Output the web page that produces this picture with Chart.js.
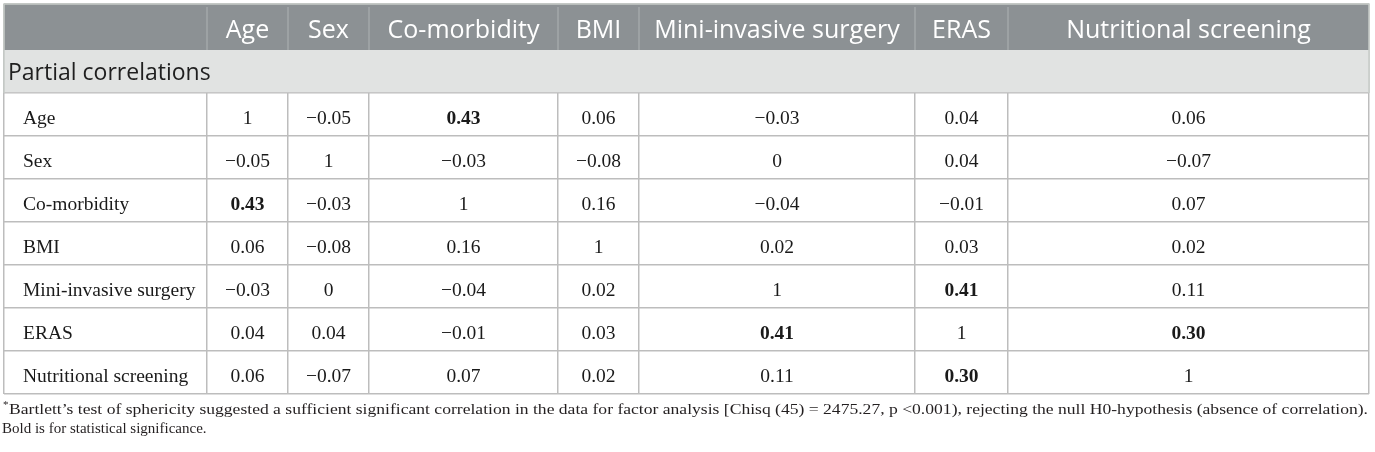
<!DOCTYPE html>
<html>
<head>
<meta charset="utf-8">
<script src="https://cdn.jsdelivr.net/npm/chart.js@4.4.0/dist/chart.umd.min.js"></script>
<style>
    html, body { margin: 0; padding: 0; background: #fff; }
    canvas { display: block; }
</style>
</head>
<body>
<canvas id="corrTable" width="1375" height="452"></canvas>
<script>
// Column and row headers
const columnLabels = ["Age", "Sex", "Co-morbidity", "BMI", "Mini-invasive surgery", "ERAS", "Nutritional screening"];
const rowLabels = ["Age", "Sex", "Co-morbidity", "BMI", "Mini-invasive surgery", "ERAS", "Nutritional screening"];
const sectionTitle = "Partial correlations";

// Partial correlations, one array per row
const ageValues = [1, -0.05, 0.43, 0.06, -0.03, 0.04, 0.06];
const sexValues = [-0.05, 1, -0.03, -0.08, 0, 0.04, -0.07];
const comorbidityValues = [0.43, -0.03, 1, 0.16, -0.04, -0.01, 0.07];
const bmiValues = [0.06, -0.08, 0.16, 1, 0.02, 0.03, 0.02];
const miniInvasiveValues = [-0.03, 0, -0.04, 0.02, 1, 0.41, 0.11];
const erasValues = [0.04, 0.04, -0.01, 0.03, 0.41, 1, 0.30];
const nutritionValues = [0.06, -0.07, 0.07, 0.02, 0.11, 0.30, 1];

// [row, col] of the bold (significant) cells
const significantCells = [[0, 2], [2, 0], [4, 5], [5, 4], [5, 6], [6, 5]];

const footnoteMark = "*";
const footnoteLines = [
    "Bartlett\u2019s test of sphericity suggested a sufficient significant correlation in the data for factor analysis [Chisq (45) = 2475.27, p <0.001), rejecting the null H0-hypothesis (absence of correlation).",
    "Bold is for statistical significance.",
];

// Layout (table units = px)
const colWidths = [203, 81, 81, 189, 81, 276, 93, 361];
const rowHeights = [46, 43, 43, 43, 43, 43, 43, 43, 43];

const matrix = [ageValues, sexValues, comorbidityValues, bmiValues, miniInvasiveValues, erasValues, nutritionValues];

function cumulative(arr) {
    const out = [0];
    arr.forEach((w) => out.push(out[out.length - 1] + w));
    return out;
}
const colEdges = cumulative(colWidths);
const rowEdges = cumulative(rowHeights);

function fmt(v) {
    if (v === 0 || v === 1) return String(v);
    const s = Math.abs(v).toFixed(2);
    return v < 0 ? "\u2212" + s : s;
}

function isBold(r, c) {
    return significantCells.some((p) => p[0] === r && p[1] === c);
}

// one point per value cell, placed in the middle of its cell
const cells = [];
matrix.forEach((row, r) => {
    row.forEach((v, c) => {
        cells.push({
            x: (colEdges[c + 1] + colEdges[c + 2]) / 2,
            y: (rowEdges[r + 2] + rowEdges[r + 3]) / 2,
            text: fmt(v),
            bold: isBold(r, c),
        });
    });
});

const SERIF = '"Liberation Serif", "DejaVu Serif", serif';
const SANS = '"Open Sans", "Noto Sans", sans-serif';

const tablePlugin = {
    id: "tablePlugin",
    beforeDatasetsDraw(chart) {
        const ctx = chart.ctx;
        const x = chart.scales.x;
        const y = chart.scales.y;
        const left = x.getPixelForValue(0);
        const right = x.getPixelForValue(colEdges[colEdges.length - 1]);
        const top = y.getPixelForValue(0);
        const headBottom = y.getPixelForValue(rowEdges[1]);
        const sectBottom = y.getPixelForValue(rowEdges[2]);

        ctx.save();
        // header band
        ctx.fillStyle = "#8c9194";
        ctx.fillRect(left, top, right - left, headBottom - top);
        // section band
        ctx.fillStyle = "#e1e3e2";
        ctx.fillRect(left, headBottom, right - left, sectBottom - headBottom - 0.75);

        // light separators inside the header
        ctx.strokeStyle = "#a3a8aa";
        ctx.lineWidth = 1.5;
        for (let c = 1; c < colEdges.length - 1; c++) {
            const px = x.getPixelForValue(colEdges[c]);
            ctx.beginPath();
            ctx.moveTo(px, top + 3);
            ctx.lineTo(px, headBottom);
            ctx.stroke();
        }
        // outer light border round the top part
        ctx.strokeStyle = "#c6cbc8";
        ctx.beginPath();
        ctx.moveTo(left, sectBottom);
        ctx.lineTo(left, top);
        ctx.lineTo(right, top);
        ctx.lineTo(right, sectBottom);
        ctx.stroke();

        // header labels
        ctx.fillStyle = "#ffffff";
        ctx.font = "25px " + SANS;
        ctx.textAlign = "center";
        ctx.textBaseline = "alphabetic";
        columnLabels.forEach((label, c) => {
            const cx = x.getPixelForValue((colEdges[c + 1] + colEdges[c + 2]) / 2);
            ctx.fillText(label, cx, top + 33.5);
        });

        // section title
        ctx.fillStyle = "#1f1f1f";
        ctx.font = "23px " + SANS;
        ctx.textAlign = "left";
        ctx.fillText(sectionTitle, left + 4, headBottom + 30);

        // row labels
        ctx.fillStyle = "#1a1a1a";
        ctx.font = "19.5px " + SERIF;
        rowLabels.forEach((label, r) => {
            ctx.fillText(label, left + 19, y.getPixelForValue(rowEdges[r + 2]) + 31);
        });
        ctx.restore();
    },
    afterDatasetsDraw(chart) {
        const ctx = chart.ctx;
        const meta = chart.getDatasetMeta(0);
        const data = chart.data.datasets[0].data;
        ctx.save();
        ctx.fillStyle = "#1a1a1a";
        ctx.textAlign = "center";
        ctx.textBaseline = "alphabetic";
        meta.data.forEach((el, i) => {
            const d = data[i];
            ctx.font = (d.bold ? "bold " : "") + "19.5px " + SERIF;
            ctx.fillText(d.text, el.x, el.y + 9.5);
        });
        ctx.restore();
    },
    afterDraw(chart) {
        const ctx = chart.ctx;
        const left = chart.chartArea.left;
        const bottom = chart.chartArea.bottom;
        const target = chart.chartArea.right - left - 6;
        ctx.save();
        ctx.fillStyle = "#231f20";
        ctx.textAlign = "left";
        ctx.textBaseline = "alphabetic";
        ctx.font = "11px " + SERIF;
        ctx.fillText(footnoteMark, left - 1, bottom + 14);
        ctx.font = "15px " + SERIF;
        const w = ctx.measureText(footnoteLines[0]).width;
        const k = w < target ? target / w : 1;
        ctx.save();
        ctx.translate(left + 5, bottom + 20);
        ctx.scale(k, 1);
        ctx.fillText(footnoteLines[0], 0, 0);
        ctx.restore();
        ctx.fillText(footnoteLines[1], left - 2, bottom + 38.7);
        ctx.restore();
    },
};

function edgeTicks(edges) {
    return (scale) => {
        scale.ticks = edges.map((v) => ({ value: v }));
    };
}

const ctx = document.getElementById("corrTable").getContext("2d");
new Chart(ctx, {
    type: "scatter",
    data: {
        datasets: [{
            data: cells,
            pointRadius: 0,
            pointHoverRadius: 0,
        }],
    },
    options: {
        responsive: false,
        animation: false,
        devicePixelRatio: 1,
        events: [],
        layout: { padding: { left: 4, top: 4, right: 6, bottom: 58 } },
        plugins: {
            legend: { display: false },
            tooltip: { enabled: false },
        },
        scales: {
            x: {
                type: "linear",
                min: 0,
                max: colEdges[colEdges.length - 1],
                afterBuildTicks: edgeTicks(colEdges),
                ticks: { display: false },
                grid: { color: "#bdbdbd", lineWidth: 1.5, drawTicks: false },
                border: { display: false },
            },
            y: {
                type: "linear",
                reverse: true,
                min: 0,
                max: rowEdges[rowEdges.length - 1],
                afterBuildTicks: edgeTicks(rowEdges),
                ticks: { display: false },
                grid: { color: "#bdbdbd", lineWidth: 1.5, drawTicks: false },
                border: { display: false },
            },
        },
    },
    plugins: [tablePlugin],
});
</script>
</body>
</html>
